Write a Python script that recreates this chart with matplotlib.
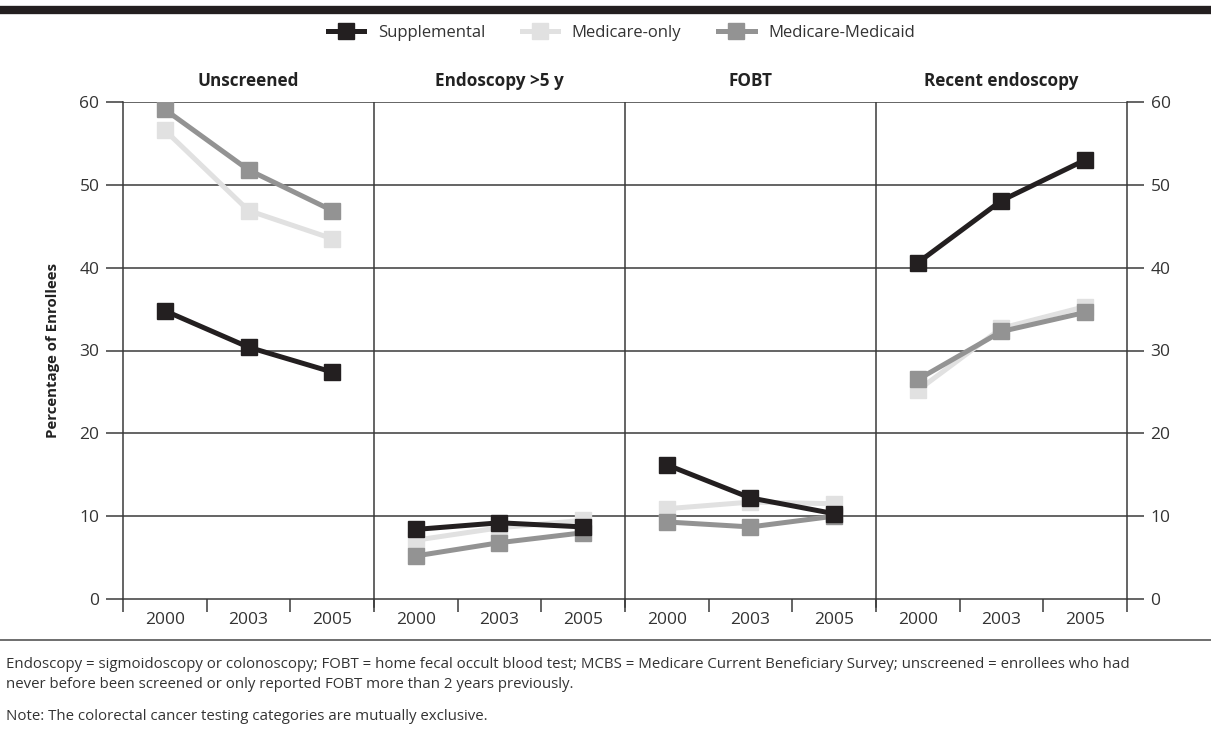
import matplotlib.pyplot as plt
from matplotlib.lines import Line2D

plt.rcParams['font.family'] = ['Open Sans', 'DejaVu Sans']

panels = ["Unscreened", "Endoscopy >5 y", "FOBT", "Recent endoscopy"]
years = ["2000", "2003", "2005"]

supplemental = [[34.8, 30.4, 27.4], [8.4, 9.2, 8.7], [16.2, 12.2, 10.3], [40.6, 48.1, 53.0]]
medicare_only = [[56.6, 46.9, 43.5], [7.1, 8.6, 9.5], [10.9, 11.7, 11.5], [25.2, 32.7, 35.3]]
medicare_medicaid = [[59.1, 51.8, 46.9], [5.2, 6.8, 8.0], [9.3, 8.7, 10.0], [26.5, 32.3, 34.6]]

series = [
    ("Medicare-only", medicare_only, "#e1e1e1"),
    ("Medicare-Medicaid", medicare_medicaid, "#939393"),
    ("Supplemental", supplemental, "#231f20"),
]

fig = plt.figure(figsize=(12.11, 7.34), dpi=100)
ax = fig.add_axes([123 / 1211, 1 - 599 / 734, 1004 / 1211, 497 / 734])

n = len(years)
for name, vals, col in series:
    for p, v in enumerate(vals):
        xs = [p * n + i + 0.5 for i in range(n)]
        ax.plot(xs, v, color=col, lw=3.6, marker="s", markersize=11.5,
                solid_joinstyle="miter", zorder=3)

ax.set_xlim(0, n * len(panels))
ax.set_ylim(0, 60)
ax.set_yticks(range(0, 61, 10))
for y in range(10, 61, 10):
    ax.axhline(y, color="#3a3a3a", lw=1.1, zorder=1)
for p in range(1, len(panels)):
    ax.axvline(p * n, color="#3a3a3a", lw=1.1, zorder=1)
    ax.plot([p * n, p * n], [0, -1.0], color="#3a3a3a", lw=1.1, clip_on=False)

ax.set_xticks(range(0, n * len(panels) + 1))
ax.set_xticklabels([])
ax.set_xticks([i + 0.5 for i in range(n * len(panels))], minor=True)
ax.set_xticklabels(years * len(panels), minor=True)
ax.tick_params(axis="x", which="major", length=9, width=1.1, color="#3a3a3a", direction="out")
ax.tick_params(axis="x", which="minor", length=0, labelsize=12.5, pad=9, labelcolor="#333333")
ax.tick_params(axis="y", length=12, width=1.1, color="#3a3a3a", labelsize=12.5,
               labelcolor="#333333", right=True, labelright=True, pad=5)

for s in ["left", "right", "bottom"]:
    ax.spines[s].set_color("#3a3a3a")
    ax.spines[s].set_linewidth(1.1)
ax.spines["top"].set_visible(False)

ax.set_ylabel("Percentage of Enrollees", fontsize=10.8, fontweight="bold", labelpad=14,
              color="#222222")

for p, title in enumerate(panels):
    ax.text(p * n + n / 2, 62.5, title, ha="center", va="center", fontsize=12.3,
            fontweight="bold", color="#222222")

handles = [Line2D([], [], color=c, lw=3.6, marker="s", markersize=11) for _, _, c in
           [series[2], series[0], series[1]]]
labels = ["Supplemental", "Medicare-only", "Medicare-Medicaid"]
fig.legend(handles, labels, loc="center", bbox_to_anchor=(0.513, 1 - 33 / 734), ncol=3,
           frameon=False, fontsize=12, handlelength=2.2, columnspacing=2.2, handletextpad=0.8,
           labelcolor="#333333")

fig.add_artist(Line2D([0, 1], [1 - 10 / 734, 1 - 10 / 734], color="#231f20", lw=6))
fig.add_artist(Line2D([0, 1], [1 - 640 / 734, 1 - 640 / 734], color="#555555", lw=1.2))

foot = dict(fontsize=10.8, color="#333333", va="center")
fig.text(6 / 1211, 1 - 665 / 734,
         "Endoscopy = sigmoidoscopy or colonoscopy; FOBT = home fecal occult blood test; "
         "MCBS = Medicare Current Beneficiary Survey; unscreened = enrollees who had", **foot)
fig.text(6 / 1211, 1 - 684 / 734,
         "never before been screened or only reported FOBT more than 2 years previously.", **foot)
fig.text(6 / 1211, 1 - 716 / 734,
         "Note: The colorectal cancer testing categories are mutually exclusive.", **foot)

fig.savefig("out.png", dpi=100)
